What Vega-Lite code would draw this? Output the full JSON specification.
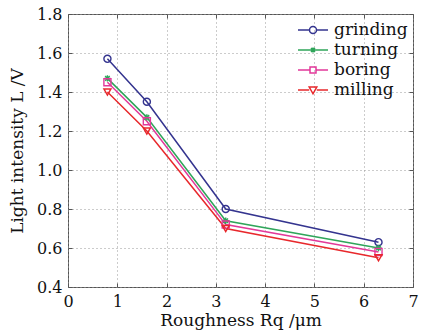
{
  "$schema": "https://vega.github.io/schema/vega-lite/v6.json",
  "width": 345,
  "height": 273,
  "autosize": "none",
  "padding": {"left": 68, "top": 14, "right": 19, "bottom": 49},
  "background": "white",
  "config": {
    "font": "DejaVu Serif",
    "view": {"stroke": "#555", "strokeWidth": 1},
    "axis": {
      "labelFont": "DejaVu Serif", "labelFontSize": 16, "labelColor": "#111",
      "titleFont": "DejaVu Serif", "titleFontSize": 17, "titleFontWeight": "normal", "titleColor": "#111",
      "grid": true, "gridColor": "#999", "gridDash": [1, 3], "gridWidth": 1,
      "domain": false, "tickColor": "#555", "tickSize": -4,
      "labelOverlap": false, "labelFlush": false, "labelBound": false
    },
    "legend": {
      "labelFont": "DejaVu Serif", "labelFontSize": 17, "labelColor": "#111"
    }
  },
  "data": {"values": [
    {"x": 0.8, "y": 1.57, "series": "grinding"},
    {"x": 1.6, "y": 1.35, "series": "grinding"},
    {"x": 3.2, "y": 0.80, "series": "grinding"},
    {"x": 6.3, "y": 0.63, "series": "grinding"},
    {"x": 0.8, "y": 1.47, "series": "turning"},
    {"x": 1.6, "y": 1.27, "series": "turning"},
    {"x": 3.2, "y": 0.74, "series": "turning"},
    {"x": 6.3, "y": 0.60, "series": "turning"},
    {"x": 0.8, "y": 1.45, "series": "boring"},
    {"x": 1.6, "y": 1.25, "series": "boring"},
    {"x": 3.2, "y": 0.72, "series": "boring"},
    {"x": 6.3, "y": 0.58, "series": "boring"},
    {"x": 0.8, "y": 1.40, "series": "milling"},
    {"x": 1.6, "y": 1.20, "series": "milling"},
    {"x": 3.2, "y": 0.70, "series": "milling"},
    {"x": 6.3, "y": 0.55, "series": "milling"}
  ]},
  "layer": [
    {
      "mark": {"type": "line", "strokeWidth": 1.5},
      "encoding": {
        "x": {"field": "x", "type": "quantitative", "scale": {"domain": [0, 7], "nice": false},
              "axis": {"values": [0,1,2,3,4,5,6,7], "title": "Roughness Rq /μm", "labelPadding": 10, "titlePadding": 3}},
        "y": {"field": "y", "type": "quantitative", "scale": {"domain": [0.4, 1.8], "nice": false},
              "axis": {"values": [0.4,0.6,0.8,1.0,1.2,1.4,1.6,1.8], "format": ".1f", "title": "Light intensity L /V", "labelPadding": 10, "titlePadding": 10}},
        "color": {"field": "series", "type": "nominal",
                  "scale": {"domain": ["grinding","turning","boring","milling"], "range": ["#34348f","#2fa55a","#e2399a","#e8282c"]},
                  "legend": null},
        "detail": {"field": "series"}
      }
    },
    {
      "mark": {"type": "point", "filled": false, "size": 50, "strokeWidth": 1.4, "opacity": 1},
      "encoding": {
        "x": {"field": "x", "type": "quantitative", "scale": {"domain": [0, 7], "nice": false}, "axis": null},
        "y": {"field": "y", "type": "quantitative", "scale": {"domain": [0.4, 1.8], "nice": false}, "axis": null},
        "color": {"field": "series", "type": "nominal",
                  "scale": {"domain": ["grinding","turning","boring","milling"], "range": ["#34348f","#2fa55a","#e2399a","#e8282c"]},
                  "legend": null},
        "shape": {"field": "series", "type": "nominal",
                  "scale": {"domain": ["grinding","turning","boring","milling"],
                            "range": ["circle", "M-0.9,0H0.9M0,-0.9V0.9M-0.65,-0.65L0.65,0.65M-0.65,0.65L0.65,-0.65", "square", "triangle-down"]},
                  "legend": null}
      }
    },
    {
      "transform": [{"filter": "datum.x < 0"}],
      "mark": {"type": "point", "filled": false, "strokeWidth": 1.4, "opacity": 1},
      "encoding": {
        "x": {"field": "x", "type": "quantitative", "scale": {"domain": [0, 7], "nice": false},
              "axis": {"orient": "top", "values": [0,1,2,3,4,5,6,7], "labels": false, "title": null, "grid": false}},
        "y": {"field": "y", "type": "quantitative", "scale": {"domain": [0.4, 1.8], "nice": false},
              "axis": {"orient": "right", "values": [0.4,0.6,0.8,1.0,1.2,1.4,1.6,1.8], "labels": false, "title": null, "grid": false}},
        "color": {"field": "series", "type": "nominal",
                  "scale": {"domain": ["grinding","turning","boring","milling"], "range": ["#34348f","#2fa55a","#e2399a","#e8282c"]},
                  "legend": {"title": null, "orient": "top-right", "offset": 5, "padding": 0, "symbolSize": 400, "symbolStrokeWidth": 1.5, "labelOffset": 10, "rowPadding": 1}},
        "shape": {"field": "series", "type": "nominal",
                  "scale": {"domain": ["grinding","turning","boring","milling"],
                            "range": [
                              "M-1.5,0H-0.35M0.35,0H1.5M-0.35,0A0.35,0.35 0 1,1 0.35,0A0.35,0.35 0 1,1 -0.35,0",
                              "M-1.5,0H1.5M-0.2,-0.2L0.2,0.2M-0.2,0.2L0.2,-0.2M0,-0.25V0.25",
                              "M-1.5,0H-0.3M0.3,0H1.5M-0.3,-0.3H0.3V0.3H-0.3Z",
                              "M-1.5,0H-0.38M0.38,0H1.5M-0.38,-0.3H0.38L0,0.38Z"
                            ]},
                  "legend": {"title": null, "orient": "top-right", "offset": 5, "padding": 0, "symbolSize": 400, "symbolStrokeWidth": 1.5, "labelOffset": 10, "rowPadding": 1}}
      }
    }
  ],
  "resolve": {"scale": {"x": "independent", "y": "independent", "color": "independent", "shape": "independent"}}
}
